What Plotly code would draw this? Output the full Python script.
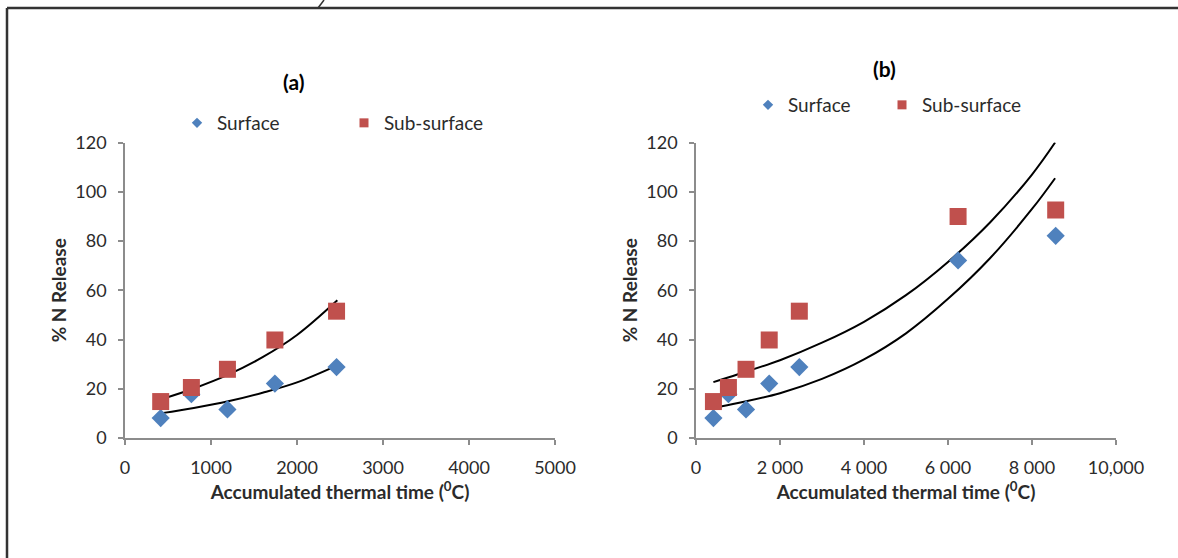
import plotly.graph_objects as go

# ---- data ----
thermal_a = [415, 772, 1191, 1743, 2460]
surface_a = [8.1, 17.8, 11.6, 22.1, 28.8]
subsurface_a = [14.8, 20.5, 27.9, 39.8, 51.5]

thermal_b = [415, 772, 1191, 1743, 2460, 6240, 8564]
surface_b = [8.1, 17.8, 11.6, 22.1, 28.8, 72.1, 82.1]
subsurface_b = [14.8, 20.5, 27.9, 39.8, 51.5, 89.9, 92.6]

# trend lines
trend_a_x = [427, 800, 1200, 1600, 2000, 2469]
trend_a_sub = [15.8, 20.1, 25.7, 32.8, 41.8, 55.9]
trend_a_surf = [10.1, 12.2, 14.9, 18.4, 22.6, 29.5]

trend_b_x = [414, 1000, 2000, 3000, 4000, 5000, 6000, 7000, 8000, 8550]
trend_b_upper = [22.7, 25.9, 31.6, 38.7, 47.2, 58.0, 71.5, 87.5, 107, 120]
trend_b_lower = [12.2, 14.2, 18.2, 24.0, 31.9, 42.5, 56.5, 73, 93, 105.5]

xticks_a = [0, 1000, 2000, 3000, 4000, 5000]
xticks_b = [0, 2000, 4000, 6000, 8000, 10000]
xticktext_b = ["0", "2 000", "4 000", "6 000", "8 000", "10,000"]
yticks = [0, 20, 40, 60, 80, 100, 120]

BLUE = "#4F81BD"
RED = "#C0504D"
FONT = "Lato, 'Open Sans', sans-serif"
TXT = "#2b2b2b"
AXC = "#8C8C8C"

W, H = 1178, 558

fig = go.Figure()

def trend(x, y, xa, ya):
    fig.add_trace(go.Scatter(x=x, y=y, mode="lines", line=dict(color="black", width=2, shape="spline"),
                             xaxis=xa, yaxis=ya, showlegend=False, hoverinfo="skip"))

trend(trend_a_x, trend_a_surf, "x", "y")
trend(trend_a_x, trend_a_sub, "x", "y")
trend(trend_b_x, trend_b_upper, "x2", "y2")
trend(trend_b_x, trend_b_lower, "x2", "y2")

mk_d = dict(symbol="diamond", size=14, color=BLUE)
mk_s = dict(symbol="square", size=17, color=RED)

fig.add_trace(go.Scatter(x=thermal_a, y=surface_a, mode="markers", marker=mk_d, name="Surface",
                         xaxis="x", yaxis="y", showlegend=False))
fig.add_trace(go.Scatter(x=thermal_a, y=subsurface_a, mode="markers", marker=mk_s, name="Sub-surface",
                         xaxis="x", yaxis="y", showlegend=False))
fig.add_trace(go.Scatter(x=thermal_b, y=surface_b, mode="markers", marker=mk_d, name="Surface",
                         xaxis="x2", yaxis="y2", showlegend=False))
fig.add_trace(go.Scatter(x=thermal_b, y=subsurface_b, mode="markers", marker=mk_s, name="Sub-surface",
                         xaxis="x2", yaxis="y2", showlegend=False))

# legend entries (small symbols as in the reference)
lg_d = dict(symbol="diamond", size=8, color=BLUE)
lg_s = dict(symbol="square", size=9, color=RED)
for lg, xa, ya in (("legend", "x", "y"), ("legend2", "x2", "y2")):
    fig.add_trace(go.Scatter(x=[None], y=[None], mode="markers", marker=lg_d, name="Surface",
                             xaxis=xa, yaxis=ya, legend=lg))
    fig.add_trace(go.Scatter(x=[None], y=[None], mode="markers", marker=lg_s, name="Sub-surface",
                             xaxis=xa, yaxis=ya, legend=lg, legendwidth=120))

ydom = [1 - 438 / H, 1 - 142.5 / H]
axis_common = dict(showgrid=False, zeroline=False, showline=True, linecolor=AXC, linewidth=1.5,
                   ticks="outside", ticklen=5, tickcolor=AXC, tickwidth=1.5, ticklabelstandoff=8,
                   automargin=False, tickfont=dict(family=FONT, size=18, color=TXT))
xtitle = dict(text="<b>Accumulated thermal time (<sup>0</sup>C)</b>",
              font=dict(family=FONT, size=19, color=TXT), standoff=4)
ytitle = dict(text="<b>% N Release</b>", font=dict(family=FONT, size=19, color=TXT), standoff=4)

legend_font = dict(family=FONT, size=19, color=TXT)

fig.update_layout(
    width=W, height=H, autosize=False,
    margin=dict(l=0, r=0, t=0, b=0, pad=0, autoexpand=False),
    paper_bgcolor="white", plot_bgcolor="white",
    xaxis=dict(axis_common, domain=[125 / W, 555 / W], range=[0, 5000], tickvals=xticks_a,
               anchor="y", title=xtitle),
    yaxis=dict(axis_common, domain=ydom, range=[0, 120], tickvals=yticks, anchor="x", title=ytitle),
    xaxis2=dict(axis_common, domain=[696 / W, 1116 / W], range=[0, 10000], tickvals=xticks_b,
                ticktext=xticktext_b, anchor="y2", title=xtitle),
    yaxis2=dict(axis_common, domain=ydom, range=[0, 120], tickvals=yticks, anchor="x2", title=ytitle),
    legend=dict(orientation="h", x=177 / W, y=1 - 123 / H, xanchor="left", yanchor="middle",
                entrywidth=122, entrywidthmode="pixels", itemwidth=30,
                font=legend_font, bgcolor="rgba(0,0,0,0)"),
    legend2=dict(orientation="h", x=748 / W, y=1 - 105 / H, xanchor="left", yanchor="middle",
                 entrywidth=89, entrywidthmode="pixels", itemwidth=30,
                 font=legend_font, bgcolor="rgba(0,0,0,0)"),
    annotations=[
        dict(text="<b>(a)</b>", x=293 / W, y=1 - 82 / H, xref="paper", yref="paper", showarrow=False,
             xanchor="center", yanchor="middle", font=dict(family=FONT, size=21, color="black")),
        dict(text="<b>(b)</b>", x=884 / W, y=1 - 68 / H, xref="paper", yref="paper", showarrow=False,
             xanchor="center", yanchor="middle", font=dict(family=FONT, size=21, color="black")),
    ],
    shapes=[
        dict(type="line", xref="paper", yref="paper", x0=7 / W, x1=1.0, y0=1 - 8 / H, y1=1 - 8 / H,
             line=dict(color="#333333", width=2.5)),
        dict(type="line", xref="paper", yref="paper", x0=7 / W, x1=7 / W, y0=0, y1=1 - 8 / H,
             line=dict(color="#333333", width=2.5)),
        dict(type="line", xref="paper", yref="paper", x0=318 / W, x1=324 / W, y0=1 - 8 / H, y1=1.0,
             line=dict(color="#333333", width=1.5)),
    ],
)

fig.write_html("out.html", config={"displayModeBar": False},
               post_script="document.body.style.margin='0';document.body.style.overflow='hidden';")
